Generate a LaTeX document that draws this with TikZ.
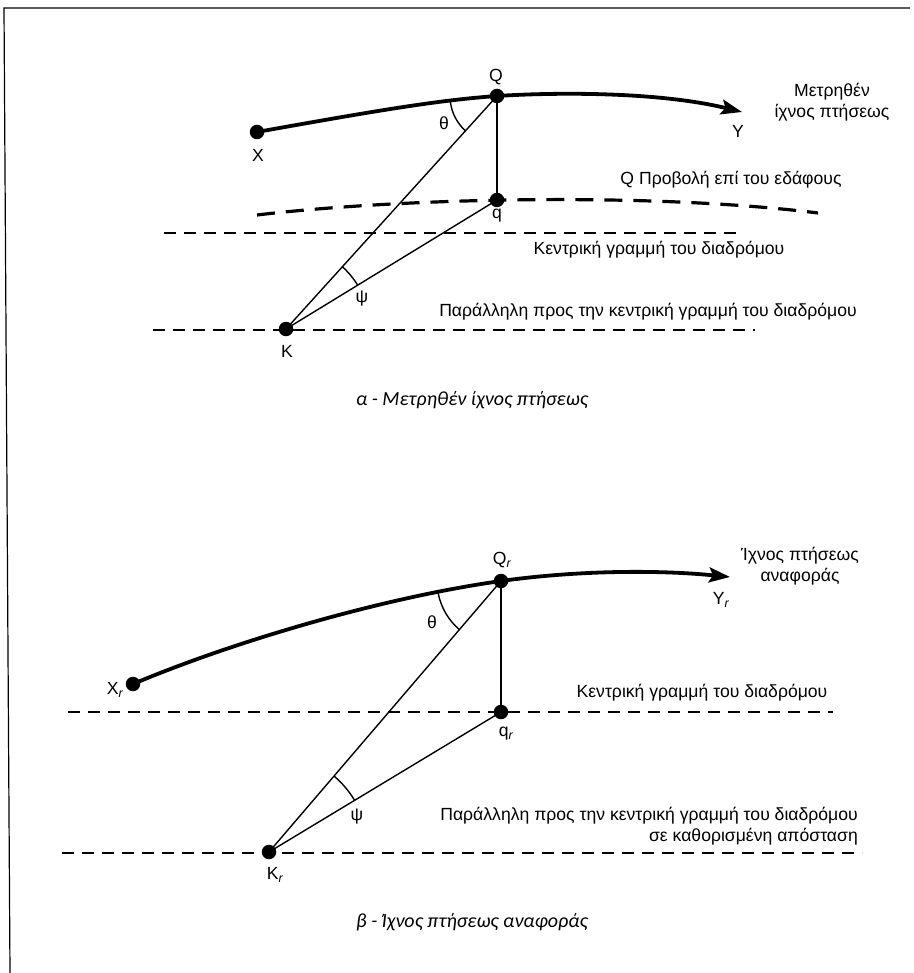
\documentclass[tikz,border=0pt]{standalone}
\usepackage{fontspec}
\setmainfont{Liberation Sans}
\newfontfamily\capfont{Carlito}
\usetikzlibrary{arrows.meta,calc}
\begin{document}
\begin{tikzpicture}[x=1pt,y=-1pt,
  dot/.style={circle,fill=black,inner sep=0pt,minimum size=14.5pt},
  lbl/.style={inner sep=0pt,font=\fontsize{17.6}{20.5}\selectfont},
  captext/.style={inner sep=0pt,font=\capfont\itshape\fontsize{20}{23}\selectfont},
  track/.style={line width=3.8pt,-{Stealth[length=21pt,width=15pt,inset=4pt]}},
  ground/.style={line width=3.2pt,dash pattern=on 18pt off 11pt},
  refline/.style={line width=1.4pt,dash pattern=on 12pt off 8pt},
  thin/.style={line width=1.4pt},
  anglearc/.style={line width=1.4pt}]
\useasboundingbox (0,0) rectangle (913,973);
% frame
\draw[line width=1.2pt] (910,8) -- (4,8) -- (10,973);

% ---------- figure a ----------
\node[dot] (X) at (257,132) {};
\node[dot] (Q) at (497,96) {};
\node[dot] (q) at (497,200) {};
\node[dot] (K) at (286,329) {};
\coordinate (Y) at (742,112);
\coordinate (gA) at (257,215);
\coordinate (gB) at (818,213);
\coordinate (cA) at (164,233);
\coordinate (cB) at (743,233);
\coordinate (pA) at (153,330);
\coordinate (pB) at (755,330);

\draw[refline] (cA) -- (cB);
\draw[refline] (pA) -- (pB);
\draw[ground] (gA) .. controls (400,198) and (650,192) .. (gB);
\draw[track] (X.center) .. controls (380,110) and (440,100) .. (Q.center)
   .. controls (560,92) and (660,92) .. (Y);
\draw[thin] (Q.center) -- (q.center);
\draw[thin] (K.center) -- (Q.center);
\draw[thin] (K.center) -- (q.center);
\draw[anglearc] ($(Q.center)+(172.7:47)$) arc[start angle=172.7,end angle=132.2,radius=47];
\draw[anglearc] ($(K.center)+(-47.8:84)$) arc[start angle=-47.8,end angle=-31.4,radius=84];

\node[lbl] (lQ) at (496,77) {Q};
\node[lbl] (lX) at (258,155) {X};
\node[lbl] (lY) at (738,131) {Y};
\node[lbl] (lth) at (444,123) {θ};
\node[lbl] (lq) at (497,216) {q};
\node[lbl] (lpsi) at (362,299) {ψ};
\node[lbl] (lK) at (287,351) {K};
\node[lbl,align=center] (ltrack) at (832,102) {Μετρηθέν\\ίχνος πτήσεως};
\node[lbl] (lground) at (731,180) {Q Προβολή επί του εδάφους};
\node[lbl] (lcentre) at (659,250) {Κεντρική γραμμή του διαδρόμου};
\node[lbl] (lpar) at (648,312) {Παράλληλη προς την κεντρική γραμμή του διαδρόμου};
\node[captext] (capa) at (472,400) {α - Μετρηθέν ίχνος πτήσεως};

% ---------- figure b ----------
\node[dot] (Xr) at (133,684) {};
\node[dot] (Qr) at (501,581) {};
\node[dot] (qr) at (501,712) {};
\node[dot] (Kr) at (269,852) {};
\coordinate (Yr) at (730,577);
\coordinate (crA) at (68,712);
\coordinate (crB) at (833,712);
\coordinate (prA) at (62,853);
\coordinate (prB) at (862,853);

\draw[refline] (crA) -- (crB);
\draw[refline] (prA) -- (prB);
\draw[track] (Xr.center) .. controls (230,643) and (380,598) .. (Qr.center)
   .. controls (580,570) and (660,570) .. (Yr);
\draw[thin] (Qr.center) -- (qr.center);
\draw[thin] (Kr.center) -- (Qr.center);
\draw[thin] (Kr.center) -- (qr.center);
\draw[anglearc] ($(Qr.center)+(168.9:64)$) arc[start angle=168.9,end angle=130.6,radius=64];
\draw[anglearc] ($(Kr.center)+(-49.4:100)$) arc[start angle=-49.4,end angle=-31.1,radius=100];

\node[lbl] (lQr) at (502,560) {Q\textsubscript{\itshape r}};
\node[lbl] (lXr) at (115,690) {X\textsubscript{\itshape r}};
\node[lbl] (lYr) at (721,600) {Y\textsubscript{\itshape r}};
\node[lbl] (lthr) at (432,622) {θ};
\node[lbl] (lqr) at (506,734) {q\textsubscript{\itshape r}};
\node[lbl] (lpsir) at (357,817) {ψ};
\node[lbl] (lKr) at (275,875) {K\textsubscript{\itshape r}};
\node[lbl,align=center] (ltrackr) at (800,566) {Ίχνος πτήσεως\\αναφοράς};
\node[lbl] (lcentrer) at (702,693) {Κεντρική γραμμή του διαδρόμου};
\node[lbl,align=right,anchor=east] (lparr) at (858,826) {Παράλληλη προς την κεντρική γραμμή του διαδρόμου\\σε καθορισμένη απόσταση};
\node[captext] (capb) at (472,922) {β - Ίχνος πτήσεως αναφοράς};
\end{tikzpicture}
\end{document}
